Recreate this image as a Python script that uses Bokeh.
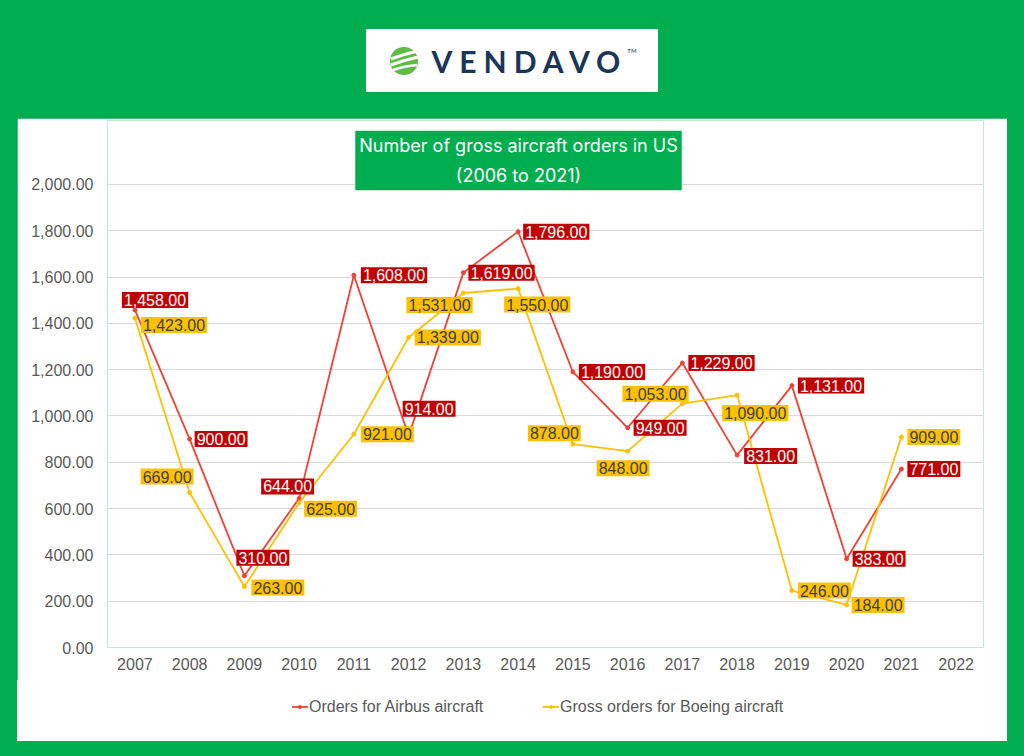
from bokeh.plotting import figure
from bokeh.models import (ColumnDataSource, Label, Div, Column,
                          NumeralTickFormatter, FixedTicker, FactorRange, Range1d)
from bokeh.core.properties import value
from bokeh.embed import file_html
from bokeh.resources import INLINE

# ---------------- data ----------------
years = [str(y) for y in range(2007, 2023)]
point_years = [str(y) for y in range(2007, 2022)]
airbus = [1458, 900, 310, 644, 1608, 914, 1619, 1796, 1190, 949, 1229, 831, 1131, 383, 771]
boeing = [1423, 669, 263, 625, 921, 1339, 1531, 1550, 878, 848, 1053, 1090, 246, 184, 909]
y_ticks = [0, 200, 400, 600, 800, 1000, 1200, 1400, 1600, 1800, 2000]

title_text = "Number of gross aircraft orders in US\n(2006 to 2021)"
series_names = ["Orders for Airbus aircraft", "Gross orders for Boeing aircraft"]

# label placement (pixels): box left relative to the point, shift downward
airbus_dx = [-15, 3, -10, -40, 5, -8, 3, 3, 4, 4, 4, 5, 4, 4, 4]
airbus_dy = [-10, 0, -18, -12, 0, -27, 0, 0, 0, 0, 0, 1, 0, 0, 0]
boeing_dx = [4, -51, 5, 3, 5, 4, -59, -16, -47, -33, -62, -17, 4, 3, 4]
boeing_dy = [7, -16, 1, 6, 0, 0, 12, 16, -11, 17, -10, 18, 0, 0, 0]

GREEN = "#00AD4F"
RED_LINE = "#EF4136"
RED_BOX = "#C00000"
YEL = "#FFC000"
GREY_TXT = "#595959"
FONT = "Liberation Sans"
PAD = 2

def src(vals, dx, dy):
    return ColumnDataSource(dict(
        year=point_years, val=vals,
        label=[f"{v:,.2f}" for v in vals],
        dx=[d + PAD for d in dx],
        dy=list(dy),
    ))

sa = src(airbus, airbus_dx, airbus_dy)
sb = src(boeing, boeing_dx, boeing_dy)

# the y range runs past 2000 (no ticks there) to leave room for the title box
p = figure(x_range=FactorRange(*years), y_range=Range1d(0, 2276),
           width=990, height=562, output_backend="svg", toolbar_location=None,
           title=None,
           min_border_left=90, min_border_right=24, min_border_top=2, min_border_bottom=33,
           background_fill_color="white", border_fill_color="white",
           outline_line_color=None)

# axes
p.yaxis.ticker = FixedTicker(ticks=y_ticks)
p.yaxis.formatter = NumeralTickFormatter(format="0,0.00")
for ax in (p.xaxis, p.yaxis):
    ax.axis_line_color = None
    ax.major_tick_line_color = None
    ax.minor_tick_line_color = None
    ax.major_tick_out = 0
    ax.major_tick_in = 0
    ax.major_label_text_font = FONT
    ax.major_label_text_font_size = "16px"
    ax.major_label_text_color = GREY_TXT
p.yaxis.major_label_standoff = 14
p.xaxis.major_label_standoff = 10
p.xgrid.grid_line_color = None
p.ygrid.grid_line_color = "#D9D9D9"
p.ygrid.grid_line_width = 1

# series
la = p.line(x="year", y="val", source=sa, line_color=RED_LINE, line_width=1.8)
ma = p.scatter(x="year", y="val", source=sa, size=4, fill_color=RED_LINE, line_color=RED_LINE)
lb = p.line(x="year", y="val", source=sb, line_color=YEL, line_width=1.8)
mb = p.scatter(x="year", y="val", source=sb, size=4, fill_color=YEL, line_color=YEL)

# data labels
p.text(x="year", y="val", text="label", source=sa, x_offset="dx", y_offset="dy",
       text_font=value(FONT), text_font_size="16px", text_color="white",
       text_align="left", text_baseline="middle",
       background_fill_color=RED_BOX, padding=(PAD, 2))
p.text(x="year", y="val", text="label", source=sb, x_offset="dx", y_offset="dy",
       text_font=value(FONT), text_font_size="16px", text_color="#404040",
       text_align="left", text_baseline="middle",
       background_fill_color=YEL, padding=(PAD, 2))

# title box
p.add_layout(Label(x=411, y=487, x_units="screen", y_units="screen", text=title_text,
                   text_align="center", text_baseline="middle",
                   text_font="Inter", text_font_size="18px", text_color="white",
                   text_line_height=1.45,
                   background_fill_color=GREEN, padding=(4, 4)))

# logo
logo_html = """
<div style="width:292px;height:63px;background:#ffffff;display:flex;align-items:center;justify-content:center;">
  <svg width="32" height="30" viewBox="0 0 32 30">
    <ellipse cx="16" cy="15" rx="14" ry="14" fill="#5DBB46"/>
    <path d="M3 13 Q16 8 30 5" stroke="#ffffff" stroke-width="3" fill="none"/>
    <path d="M3 19 Q16 14 30 11" stroke="#ffffff" stroke-width="3" fill="none"/>
    <path d="M5 24 Q16 20 29 19" stroke="#ffffff" stroke-width="2.5" fill="none"/>
  </svg>
  <span style="font-family:Lato;font-weight:700;font-size:30px;letter-spacing:7px;color:#1B3558;margin-left:12px;line-height:30px;">VENDAVO</span>
  <span style="font-family:Lato;font-size:6px;color:#1B3558;align-self:flex-start;margin-top:18px;">TM</span>
</div>
"""
logo = Div(text=logo_html, width=292, height=63, margin=(29, 0, 0, 366))
p.margin = (26, 0, 0, 17)

# legend strip below the plot
def legend_item(left, color, label):
    return (
        f'<div style="position:absolute;left:{left}px;top:17px;display:flex;align-items:center;'
        f'font-family:\'{FONT}\';font-size:16px;color:{GREY_TXT};line-height:20px;white-space:nowrap;">'
        f'<svg width="16" height="10" viewBox="0 0 16 10">'
        f'<line x1="0" y1="5" x2="16" y2="5" stroke="{color}" stroke-width="1.8"/>'
        f'<circle cx="8" cy="5" r="2" fill="{color}"/></svg>'
        f'<span style="margin-left:1px;">{label}</span></div>'
    )

legend_html = (
    '<div style="position:relative;width:990px;height:61px;background:#ffffff;">'
    + legend_item(275, RED_LINE, series_names[0])
    + legend_item(526, YEL, series_names[1])
    + '</div>'
)
legend = Div(text=legend_html, width=990, height=61, margin=(0, 0, 0, 17))

layout = Column(children=[logo, p, legend], width=1024, height=756,
                styles={"background-color": GREEN})

html = file_html(layout, INLINE)
html = html.replace("<body>", '<body style="background-color:%s;">' % GREEN, 1)
open("out.html", "w").write(html)
